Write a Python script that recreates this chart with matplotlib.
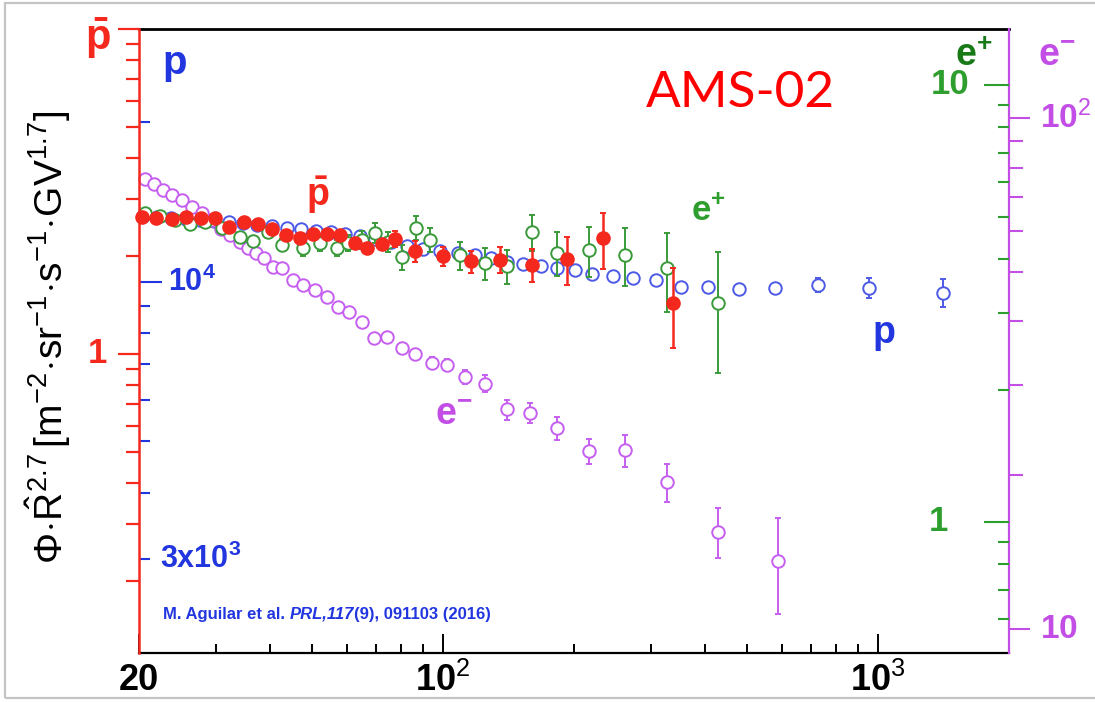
import matplotlib
matplotlib.use("Agg")
import matplotlib.pyplot as plt
from matplotlib.ticker import FixedLocator, NullFormatter
from matplotlib.patches import Rectangle

plt.rcParams['font.family'] = ['Liberation Sans', 'DejaVu Sans']
plt.rcParams['mathtext.fontset'] = 'custom'
plt.rcParams['mathtext.rm'] = 'Liberation Sans'
plt.rcParams['mathtext.bf'] = 'Liberation Sans:bold'
plt.rcParams['mathtext.it'] = 'Liberation Sans:italic'
plt.rcParams['mathtext.sf'] = 'Liberation Sans'

# ---------------- data ----------------
# protons (blue axis)
p_R = [20.4, 22.0, 23.7, 25.7, 27.6, 29.8, 32.2, 34.7, 37.4, 40.4, 43.8, 47.2, 51.0, 55.3,
       59.5, 64.4, 69.8, 76.0, 82.7, 89.9, 98.4, 108.3, 118.5, 128.9, 140.3, 152.7, 168.0,
       182.8, 201.1, 220.1, 245.9, 273.4, 308.8, 352.5, 406.7, 479.1, 579.9, 727.9, 953.5, 1410.8]
p_flux = [13320, 13270, 13210, 13150, 13090, 13030, 12980, 12920, 12810, 12750, 12640, 12590,
          12480, 12420, 12320, 12210, 12050, 11900, 11690, 11540, 11440, 11340, 11240, 11100,
          10910, 10810, 10720, 10630, 10540, 10350, 10260, 10170, 10090, 9790, 9790, 9700,
          9740, 9870, 9740, 9530]
p_err = [10, 10, 10, 10, 10, 10, 10, 10, 10, 10, 10, 10, 10, 10, 10, 10, 10, 10, 10, 10,
         10, 10, 10, 10, 10, 10, 10, 10, 10, 10, 20, 20, 30, 40, 60, 80, 120, 300, 430, 580]

# antiprotons (red axis)
pb_R = [20.3, 21.9, 23.8, 25.7, 27.8, 29.9, 32.2, 34.9, 37.6, 40.4, 43.6, 46.9, 50.2, 54.1,
        58.0, 62.8, 66.9, 72.4, 77.6, 86.3, 100, 116, 135, 160, 193, 233, 338]
pb_val = [2.64, 2.62, 2.60, 2.64, 2.62, 2.62, 2.46, 2.55, 2.51, 2.42, 2.32, 2.27, 2.34, 2.34,
          2.32, 2.20, 2.12, 2.18, 2.26, 2.07, 2.00, 1.93, 1.95, 1.88, 1.96, 2.27, 1.44]
pb_err = [0.04, 0.04, 0.04, 0.04, 0.04, 0.04, 0.05, 0.05, 0.05, 0.05, 0.065, 0.065, 0.065,
          0.065, 0.065, 0.08, 0.08, 0.08, 0.13, 0.15, 0.14, 0.15, 0.18, 0.22, 0.33, 0.44, 0.40]

# positrons (green axis)
ep_R = [20.65, 22.4, 24.2, 26.2, 28.4, 31.0, 34.1, 36.6, 39.6, 42.7, 47.7, 52.2, 57.1, 60.5,
        65.1, 69.8, 74.7, 80.5, 86.7, 93.3, 109.4, 124.9, 140.3, 160.2, 182.8, 216.6, 262.0,
        327.3, 428.8]
ep_val = [5.09, 5.01, 4.91, 4.81, 4.86, 4.71, 4.49, 4.40, 4.61, 4.30, 4.24, 4.35, 4.24, 4.35,
          4.42, 4.58, 4.37, 4.04, 4.71, 4.42, 4.08, 3.91, 3.85, 4.61, 4.13, 4.19, 4.08, 3.81, 3.17]
ep_err = [0.08, 0.08, 0.08, 0.08, 0.08, 0.07, 0.07, 0.12, 0.15, 0.14, 0.18, 0.18, 0.18, 0.18,
          0.21, 0.24, 0.23, 0.26, 0.30, 0.28, 0.30, 0.33, 0.35, 0.44, 0.48, 0.55, 0.62, 0.78, 0.98]

# electrons (purple axis)
em_R = [20.65, 21.7, 22.7, 23.8, 25.1, 26.5, 27.9, 29.4, 30.9, 32.4, 34.1, 35.6, 37.2, 38.8,
        40.7, 42.7, 45.2, 47.7, 50.8, 54.1, 57.4, 60.8, 65.1, 69.4, 74.3, 80.5, 86.2, 94.3,
        102.1, 112.3, 124.9, 140.3, 158.5, 182.8, 216.6, 262.0, 327.3, 428.8, 589.0]
em_val = [75.9, 74.3, 72.3, 70.7, 69.1, 66.9, 65.2, 63.2, 60.6, 59.0, 57.2, 55.7, 54.4, 53.2,
          51.1, 50.9, 48.2, 47.1, 46.1, 44.6, 42.7, 41.7, 39.9, 37.1, 37.3, 35.5, 34.5, 33.2,
          32.9, 31.1, 30.2, 26.9, 26.5, 24.7, 22.3, 22.4, 19.4, 15.5, 13.6]
em_err = [0.3, 0.3, 0.3, 0.3, 0.3, 0.3, 0.3, 0.3, 0.35, 0.35, 0.35, 0.4, 0.4, 0.4, 0.45, 0.45,
          0.5, 0.5, 0.55, 0.55, 0.6, 0.6, 0.6, 0.7, 0.7, 0.75, 0.8, 0.9, 0.9, 1.0, 1.15, 1.2,
          1.15, 1.25, 1.25, 1.6, 1.65, 1.75, 2.9]

# axes ranges and ticks
x_range = (20, 2000)
x_major = [20, 100, 1000]
x_major_labels = ['20', r'$\mathbf{10}^{\mathrm{2}}$', r'$\mathbf{10}^{\mathrm{3}}$']
x_minor = [30, 40, 50, 60, 70, 80, 90, 200, 300, 400, 500, 600, 700, 800, 900]

red_range = (0.1202, 10.0)
red_major = [1, 10]
red_minor = [0.2, 0.3, 0.4, 0.5, 0.6, 0.7, 0.8, 0.9, 2, 3, 4, 5, 6, 7, 8, 9]

blue_range = (1995, 30000)
blue_major = [1e4]
blue_minor = [3000, 4000, 5000, 6000, 7000, 8000, 9000, 20000]
blue_labels = {1e4: r'$\mathbf{10^{4}}$', 3000: r'$\mathbf{3x10^{3}}$'}

green_range = (0.5013, 13.43)
green_major = [1, 10]
green_minor = [0.6, 0.7, 0.8, 0.9, 2, 3, 4, 5, 6, 7, 8, 9]

purple_range = (8.98, 149.3)
purple_major = [10, 100]
purple_minor = [20, 30, 40, 50, 60, 70, 80, 90]
purple_labels = {100: r'$\mathbf{10}^{\mathrm{2}}$', 10: r'$\mathbf{10}$'}

# ---------------- style ----------------
RED = '#f5281e'
BLUE = '#2236e0'
BLUE_M = '#4d5ae6'
GREEN = '#2e9e2e'
GREEN_D = '#177a17'
GREEN_M = '#3a9a3a'
PURPLE = '#c24ee6'
PURPLE_M = '#c65ff0'

W, H = 1095, 702
fig = plt.figure(figsize=(W / 100, H / 100), dpi=100, facecolor='white')
L, Rr, T, B = 139, 1009, 29, 653
ax_p = fig.add_axes([L / W, 1 - B / H, (Rr - L) / W, (B - T) / H])
ax_em = ax_p.twinx()
ax_ep = ax_p.twinx()
ax_r = ax_p.twinx()


def fx(px):
    return px / W


def fy(py):
    return 1 - py / H


for a in (ax_p, ax_em, ax_ep, ax_r):
    for s in a.spines.values():
        s.set_visible(False)
    a.set_yscale('log')
    a.yaxis.set_major_formatter(NullFormatter())
    a.yaxis.set_minor_formatter(NullFormatter())

# x axis
ax_p.set_xscale('log')
ax_p.set_xlim(*x_range)
ax_p.set_xticks(x_major)
ax_p.set_xticklabels(x_major_labels)
ax_p.xaxis.set_minor_locator(FixedLocator(x_minor))
ax_p.xaxis.set_minor_formatter(NullFormatter())
ax_p.tick_params(axis='x', which='major', direction='in', length=13.5, width=1.4,
                 color='black', labelsize=26, pad=7, top=False)
ax_p.tick_params(axis='x', which='minor', direction='in', length=6.5, width=1.4,
                 color='black', top=False)
for lbl in ax_p.get_xticklabels():
    lbl.set_fontweight('bold')
ax_p.spines['bottom'].set_visible(True)
ax_p.spines['bottom'].set_linewidth(1.6)
ax_p.spines['top'].set_visible(True)
ax_p.spines['top'].set_linewidth(2.0)

# blue proton axis (left, inward)
ax_p.set_ylim(*blue_range)
ax_p.yaxis.set_major_locator(FixedLocator(blue_major))
ax_p.yaxis.set_minor_locator(FixedLocator(blue_minor))
ax_p.yaxis.set_major_formatter(NullFormatter())
ax_p.yaxis.set_minor_formatter(NullFormatter())
ax_p.tick_params(axis='y', which='major', direction='in', length=16.5, width=1.5,
                 color=BLUE, left=True, right=False)
ax_p.tick_params(axis='y', which='minor', direction='in', length=8, width=1.5,
                 color=BLUE, left=True, right=False)
ytr = ax_p.get_yaxis_transform()
ax_p.text(0.033, 1e4, blue_labels[1e4], transform=ytr, ha='left', va='center',
          color=BLUE, fontsize=22)
ax_p.text(0.024, 3000, blue_labels[3000], transform=ytr, ha='left', va='center',
          color=BLUE, fontsize=22)

# purple electron axis (right, outward)
ax_em.set_ylim(*purple_range)
ax_em.yaxis.set_major_locator(FixedLocator(purple_major))
ax_em.yaxis.set_minor_locator(FixedLocator(purple_minor))
ax_em.yaxis.set_major_formatter(NullFormatter())
ax_em.yaxis.set_minor_formatter(NullFormatter())
ax_em.spines['right'].set_visible(True)
ax_em.spines['right'].set_color(PURPLE)
ax_em.spines['right'].set_linewidth(1.6)
ax_em.tick_params(axis='y', which='major', direction='out', length=15, width=1.5,
                  color=PURPLE, right=True, left=False)
ax_em.tick_params(axis='y', which='minor', direction='out', length=10, width=1.5,
                  color=PURPLE, right=True, left=False)
etr = ax_em.get_yaxis_transform()
for v, s in purple_labels.items():
    ax_em.text(1.036, v, s, transform=etr, ha='left', va='center', color=PURPLE, fontsize=24)

# green positron axis (right, inward)
ax_ep.set_ylim(*green_range)
ax_ep.yaxis.set_major_locator(FixedLocator(green_major))
ax_ep.yaxis.set_minor_locator(FixedLocator(green_minor))
ax_ep.yaxis.set_major_formatter(NullFormatter())
ax_ep.yaxis.set_minor_formatter(NullFormatter())
ax_ep.tick_params(axis='y', which='major', direction='in', length=18, width=1.5,
                  color=GREEN, right=True, left=False)
ax_ep.tick_params(axis='y', which='minor', direction='in', length=8, width=1.5,
                  color=GREEN, right=True, left=False)
gtr = ax_ep.get_yaxis_transform()
ax_ep.text(0.955, 10, '10', transform=gtr, ha='right', va='center', color=GREEN,
           fontsize=25, fontweight='bold')
ax_ep.text(0.930, 1, '1', transform=gtr, ha='right', va='center', color=GREEN,
           fontsize=25, fontweight='bold')

# red antiproton axis (left, outward)
ax_r.yaxis.tick_left()
ax_r.set_ylim(*red_range)
ax_r.yaxis.set_major_locator(FixedLocator(red_major))
ax_r.yaxis.set_minor_locator(FixedLocator(red_minor))
ax_r.yaxis.set_major_formatter(NullFormatter())
ax_r.yaxis.set_minor_formatter(NullFormatter())
ax_r.spines['left'].set_visible(True)
ax_r.spines['left'].set_color(RED)
ax_r.spines['left'].set_linewidth(1.8)
ax_r.tick_params(axis='y', which='major', direction='out', length=15, width=1.6,
                 color=RED, left=True, right=False)
ax_r.tick_params(axis='y', which='minor', direction='out', length=9.4, width=1.6,
                 color=RED, left=True, right=False)
rtr = ax_r.get_yaxis_transform()
ax_r.text(-0.037, 1, '1', transform=rtr, ha='right', va='center', color=RED,
          fontsize=25, fontweight='bold')

# ---------------- data series ----------------
eb = dict(fmt='o', ms=9, mew=1.4, elinewidth=1.4, capsize=2.2, capthick=1.2, clip_on=False)
ax_p.errorbar(p_R, p_flux, yerr=p_err, color=BLUE_M, mfc='white', mec=BLUE_M, **eb)
ax_em.errorbar(em_R, em_val, yerr=em_err, color=PURPLE_M, mfc='white', mec=PURPLE_M, **eb)
ax_ep.errorbar(ep_R, ep_val, yerr=ep_err, color=GREEN_M, mfc='white', mec=GREEN_M, **eb)
ax_r.errorbar(pb_R, pb_val, yerr=pb_err, fmt='o', ms=9.5, color=RED, mfc=RED, mec=RED,
              elinewidth=1.8, capsize=2.2, capthick=1.4, clip_on=False)

# ---------------- texts ----------------
fig.text(fx(98), fy(38), r'$\mathbf{\bar{p}}$', color=RED, fontsize=30,
         ha='center', va='center')
fig.text(fx(175), fy(63), 'p', color=BLUE, fontsize=29, fontweight='bold',
         ha='center', va='center')
fig.text(fx(740), fy(93), 'AMS-02', color='#ff0000', fontsize=37, family='Lato',
         ha='center', va='center')
fig.text(fx(974), fy(56), r'$\mathbf{e^{+}}$', color=GREEN_D, fontsize=27,
         ha='center', va='center')
fig.text(fx(1057), fy(56), r'$\mathbf{e^{-}}$', color=PURPLE, fontsize=27,
         ha='center', va='center')

fig.text(fx(318), fy(195), r'$\mathbf{\bar{p}}$', color=RED, fontsize=27,
         ha='center', va='center')
fig.text(fx(708), fy(210), r'$\mathbf{e^{+}}$', color=GREEN, fontsize=25,
         ha='center', va='center')
fig.text(fx(884), fy(333), 'p', color=BLUE, fontsize=27, fontweight='bold',
         ha='center', va='center')
fig.text(fx(454), fy(415), r'$\mathbf{e^{-}}$', color=PURPLE, fontsize=27,
         ha='center', va='center')

fig.text(fx(48), fy(337),
         r'$\Phi\!\cdot\!\hat{\mathrm{R}}^{2.7}\,[\mathrm{m}^{-2}\!\cdot\!\mathrm{sr}^{-1}'
         r'\!\cdot\!\mathrm{s}^{-1}\!\cdot\!\mathrm{GV}^{1.7}]$',
         rotation=90, ha='center', va='center', fontsize=28, color='black')

t1 = fig.text(fx(163), fy(614), 'M. Aguilar et al. ', color=BLUE, fontsize=12,
              fontweight='bold', ha='left', va='center')
t2 = fig.text(0, 0, 'PRL,117', color=BLUE, fontsize=12, fontweight='bold',
              style='italic', ha='left', va='bottom')
t3 = fig.text(0, 0, '(9), 091103 (2016)', color=BLUE, fontsize=12, fontweight='bold',
              ha='left', va='bottom')
fig.canvas.draw()
r = fig.canvas.get_renderer()
b1 = t1.get_window_extent(r)
t2.set_position((b1.x1 / W, b1.y0 / H))
fig.canvas.draw()
b2 = t2.get_window_extent(r)
t3.set_position((b2.x1 / W, b1.y0 / H))

# light grey outer frame
fig.patches.append(Rectangle((fx(5), fy(698)), (1100 - 5) / W, (698 - 3) / H,
                             transform=fig.transFigure, fill=False, ec='#c4c4c4', lw=1.6))

fig.savefig('out.png', dpi=100, facecolor='white')
